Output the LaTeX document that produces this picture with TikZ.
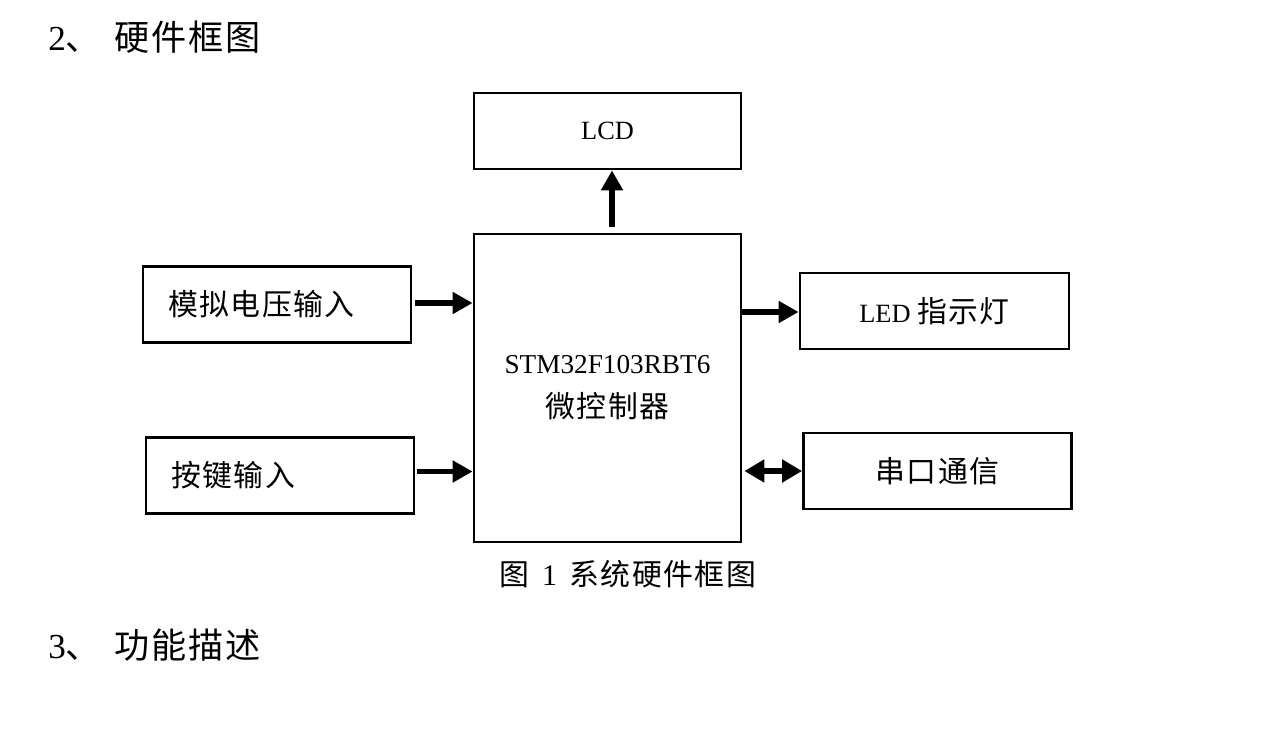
\documentclass[tikz,border=0pt]{standalone}
\usepackage{fontspec}
\setmainfont{Liberation Serif}
\newfontfamily\cjk[LetterSpace=5]{Noto Sans CJK SC}
\usetikzlibrary{arrows.meta}
\newcommand{\zhbox}{\cjk\fontsize{17pt}{25pt}\selectfont}
\tikzset{
  blk/.style={draw, line width=1.6pt, minimum width=#1*0.2mm, minimum height=76*0.2mm,
    inner sep=0pt, align=center, font=\fontsize{15pt}{25pt}\selectfont},
  leftblk/.style={blk=268, text width=218*0.2mm, inner xsep=25*0.2mm, align=left},
  bus/.style={line width=3.4pt, -{Triangle[length=4mm,width=4.2mm]}},
  busboth/.style={line width=3.4pt, {Triangle[length=4mm,width=4.4mm]}-{Triangle[length=4mm,width=4.4mm]}},
  heading/.style={anchor=west, inner sep=0pt, font=\fontsize{20pt}{24pt}\selectfont}
}

\begin{document}
\begin{tikzpicture}[x=0.2mm, y=-0.2mm]
    \useasboundingbox (0,0) rectangle (1282,743);
    \node[heading] (sec2) at (48,37) {2{\cjk 、}\hspace{1mm} {\cjk 硬件框图}};
    \node[blk=267] (lcd) at (607.5,131) {LCD};
    \node[blk=267, minimum height=308*0.2mm] (mcu) at (607.5,388)
        {\fontsize{15.5pt}{25pt}\selectfont STM32F103RBT6\\{\zhbox 微控制器}};
    \node[leftblk] (adc) at (277,304.5) {\zhbox 模拟电压输入};
    \node[leftblk] (key) at (280,475.5) {\zhbox 按键输入};
    \node[blk=269] (led) at (934.5,311) {LED {\zhbox 指示灯}};
    \node[blk=268] (uart) at (937.5,471) {\zhbox 串口通信};
    \draw[bus] ([xshift=0.9mm,yshift=1.2mm]mcu.north) -- ([xshift=0.9mm]lcd.south);
    \draw[bus, shorten <=0.6mm] ([yshift=0.3mm]adc.east) -- ([yshift=0.3mm]adc.east -| mcu.west);
    \draw[bus, shorten <=0.4mm] ([yshift=0.8mm]key.east) -- ([yshift=0.8mm]key.east -| mcu.west);
    \draw[bus] ([yshift=-0.2mm]mcu.east |- led.west) -- ([yshift=-0.2mm]led.west);
    \draw[busboth, shorten <=0.4mm] (mcu.east |- uart.west) -- (uart.west);
    \node[font=\fontsize{17pt}{20pt}\selectfont] (cap) at (628,574) {{\cjk 图}\hspace{1mm} 1 \hspace{1mm}{\cjk 系统硬件框图}};
    \node[heading] (sec3) at (48,645) {3{\cjk 、}\hspace{1mm} {\cjk 功能描述}};
\end{tikzpicture}
\end{document}
